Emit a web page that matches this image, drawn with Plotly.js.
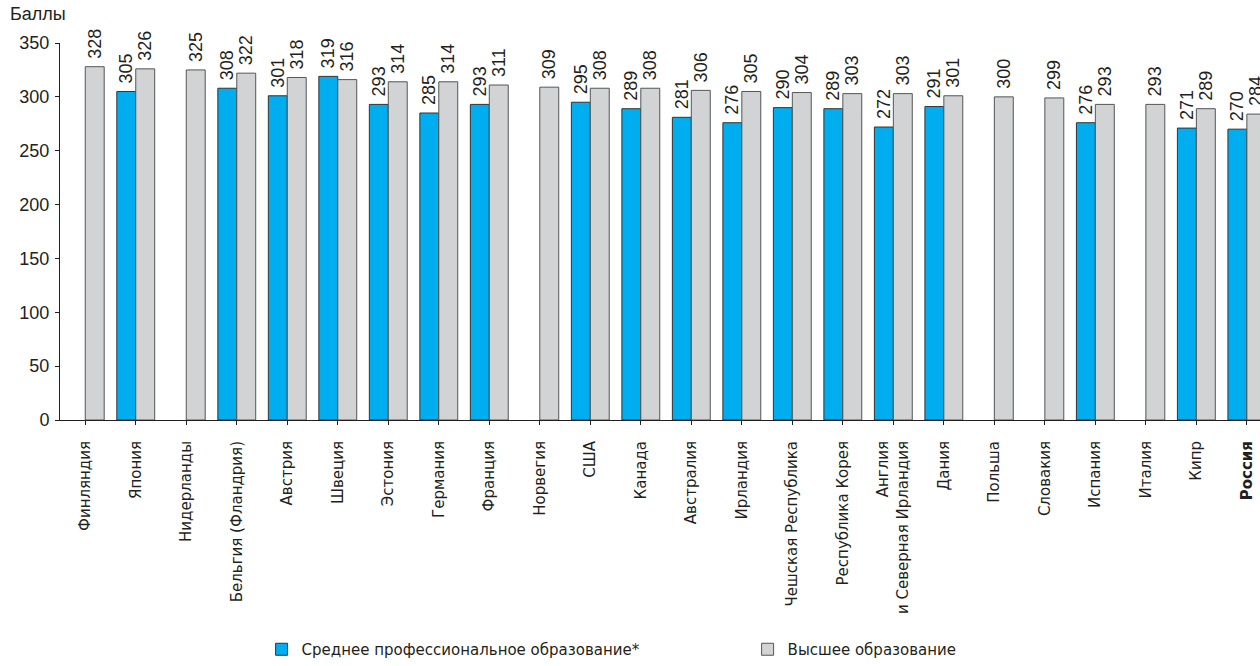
<!DOCTYPE html>
<html>
<head>
<meta charset="utf-8">
<script src="https://cdn.plot.ly/plotly-3.0.1.min.js"></script>
<style>html,body{margin:0;padding:0;background:#fff;}#chart{width:1260px;height:666px;}</style>
</head>
<body>
<div id="chart"></div>
<script>
const categories = ["Финляндия","Япония","Нидерланды","Бельгия (Фландрия)","Австрия","Швеция","Эстония","Германия","Франция","Норвегия","США","Канада","Австралия","Ирландия","Чешская Республика","Республика Корея","Англия<br>и Северная Ирландия","Дания","Польша","Словакия","Испания","Италия","Кипр","Россия"];
const tickLabels = ["Финляндия","Япония","Нидерланды","Бельгия (Фландрия)","Австрия","Швеция","Эстония","Германия","Франция","Норвегия","США","Канада","Австралия","Ирландия","Чешская Республика","Республика Корея","Англия<br>и Северная Ирландия","Дания","Польша","Словакия","Испания","Италия","Кипр","<b>Россия</b>"];
const vocational = [null,305,null,308,301,319,293,285,293,null,295,289,281,276,290,289,272,291,null,null,276,null,271,270];
const higher = [328,326,325,322,318,316,314,314,311,309,308,308,306,305,304,303,303,301,300,299,293,293,289,284];
const seriesNames = ["Среднее профессиональное образование*","Высшее образование"];
const yTicks = [0,50,100,150,200,250,300,350];

const numFont = {family:"Liberation Sans Narrow, Arial Narrow, sans-serif", size:18, color:"#231f20"};
const labFont = {family:"DejaVu Sans, sans-serif", size:15, color:"#231f20"};
const idx = categories.map((c,i)=>i);
const pad = "\u00a0";

const traces = [
  {type:"bar", name:seriesNames[0], x:idx, y:vocational, legend:"legend",
   marker:{color:"#00aeef", line:{color:"#333", width:1}},
   text:vocational.map(v=>v==null?"":pad+String(v)), textposition:"outside", textangle:-90,
   textfont:numFont, cliponaxis:false, constraintext:"none", hoverinfo:"skip"},
  {type:"bar", name:seriesNames[1], x:idx, y:higher, legend:"legend2",
   marker:{color:"#d1d3d4", line:{color:"#555", width:1}},
   text:higher.map(v=>pad+String(v)), textposition:"outside", textangle:-90,
   textfont:numFont, cliponaxis:false, constraintext:"none", hoverinfo:"skip"}
];

const layout = {
  width:1260, height:666,
  margin:{l:60, r:0, t:43, b:245},
  paper_bgcolor:"#fff", plot_bgcolor:"#fff",
  barmode:"group", bargap:0.25, bargroupgap:0,
  showlegend:true,
  legend:{orientation:"h", x:0.168, xanchor:"left", y:-0.61, yanchor:"middle", font:labFont},
  legend2:{orientation:"h", x:0.573, xanchor:"left", y:-0.61, yanchor:"middle", font:labFont},
  xaxis:{range:[-0.5,23.26], tickmode:"array", tickvals:idx, ticktext:tickLabels,
         tickangle:-90, tickson:"boundaries", ticks:"outside", ticklen:4, tickcolor:"#231f20",
         ticklabelstandoff:10,
         showline:true, linecolor:"#231f20", linewidth:1, showgrid:false, zeroline:false,
         tickfont:labFont, fixedrange:true},
  yaxis:{range:[0,350], tickmode:"array", tickvals:yTicks, ticks:"outside", ticklen:4, tickcolor:"#231f20",
         ticklabelstandoff:2,
         showline:true, linecolor:"#231f20", linewidth:1, showgrid:false, zeroline:false,
         tickfont:numFont, fixedrange:true},
  annotations:[{text:"Баллы", xref:"paper", yref:"paper", x:-0.043, y:1.045, xanchor:"left", yanchor:"bottom",
                showarrow:false, font:{family:"Liberation Sans Narrow, Arial Narrow, sans-serif", size:18, color:"#231f20"}}]
};

Plotly.newPlot("chart", traces, layout, {displayModeBar:false, staticPlot:true});
</script>
</body>
</html>
